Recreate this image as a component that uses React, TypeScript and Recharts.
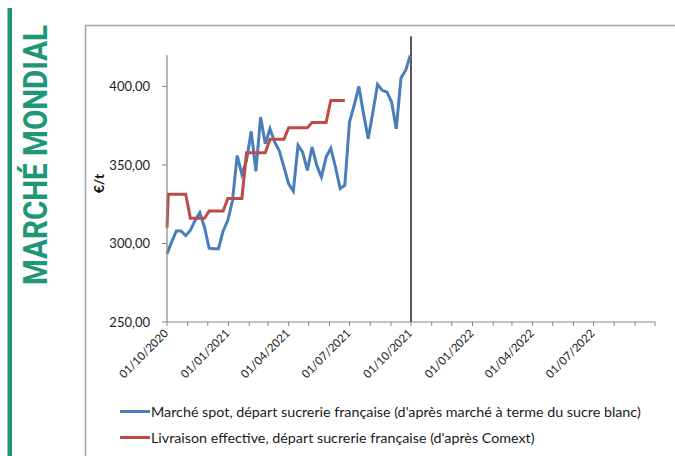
import * as React from "react";
import { Line, LineChart, ReferenceLine, XAxis, YAxis } from "recharts";

const DAY = 86400000;
const toTime = (s: string) => Date.parse(s + "T00:00:00Z");

// weekly spot quotes, first week starting 01/10/2020
const spotStart = "2020-10-01";
const spotValues = [
    293.5, 301, 308, 308, 305, 308.4, 314.7, 319.6, 310.5, 297, 296.7, 296.7,
    308, 314.7, 327.5, 356, 344, 353, 371.4, 346, 380.5, 363.5, 373, 364.6,
    359, 348.7, 338, 333.4, 362.5, 358, 346.5, 361.4, 349.7, 342.3, 355, 360.6,
    348.7, 335, 337, 377.3, 388, 400, 382.6, 366.7, 383.7, 401.3, 397.5, 396.4,
    390, 373, 405.3, 410.2, 419.8,
];

// monthly effective delivery price (Comext), step points
const deliveryDates = [
    "2020-10-01", "2020-10-03", "2020-10-29", "2020-11-05", "2020-11-26",
    "2020-12-03", "2020-12-24", "2020-12-31", "2021-01-21", "2021-01-28",
    "2021-02-25", "2021-03-04", "2021-03-25", "2021-04-01", "2021-04-29",
    "2021-05-06", "2021-05-27", "2021-06-03", "2021-06-24",
];
const deliveryValues = [
    310, 331.3, 331.3, 316, 316, 320.6, 320.6, 328.6, 328.6, 357.7, 357.7,
    366.3, 366.3, 373.7, 373.7, 377, 377, 391, 391,
];

const xStart = "2020-10-01";
const xEnd = "2022-10-01";
const markerDate = "2021-10-01";
const xTickLabels = [
    "01/10/2020", "01/01/2021", "01/04/2021", "01/07/2021",
    "01/10/2021", "01/01/2022", "01/04/2022", "01/07/2022",
];
const yTicks = [250, 300, 350, 400];

const spotName =
    "Marché spot, départ sucrerie française (d'après marché à terme du sucre blanc)";
const deliveryName =
    "Livraison effective, départ sucrerie française (d'après Comext)";

const BLUE = "#4a7ebb";
const RED = "#be4b48";
const GREEN = "#1f9678";
const AXIS = "#878787";
const FONT = "Lato, 'Open Sans', sans-serif";

const spotData = spotValues.map((v, i) => ({
    t: toTime(spotStart) + i * 7 * DAY,
    v,
}));
const deliveryData = deliveryDates.map((d, i) => ({
    t: toTime(d),
    v: deliveryValues[i],
}));

const legendItems = [
    { name: spotName, color: BLUE },
    { name: deliveryName, color: RED },
];

const monthTicks: number[] = [];
for (let m = 0; m <= 24; m++) {
    monthTicks.push(Date.UTC(2020, 9 + m, 1));
}

const labelFor = (value: number) => {
    const d = new Date(value);
    const s = `01/${String(d.getUTCMonth() + 1).padStart(2, "0")}/${d.getUTCFullYear()}`;
    return xTickLabels.includes(s) ? s : null;
};

const QuarterTick = (props: any) => {
    const { x, y, payload } = props;
    const label = labelFor(payload.value);
    if (!label) return <g />;
    return (
        <text
            x={0}
            y={0}
            textAnchor="end"
            transform={`translate(${x + 2},${y + 6}) rotate(-45)`}
            fontSize={11.5}
            fontFamily={FONT}
            fill="#222"
        >
            {label}
        </text>
    );
};

const App = () => {
    return (
        <div
            style={{
                position: "absolute",
                left: 0,
                top: 0,
                width: 675,
                height: 456,
                background: "#fff",
                overflow: "hidden",
            }}
        >
            <svg
                width={675}
                height={456}
                style={{ position: "absolute", left: 0, top: 0 }}
            >
                <rect x={7.5} y={8} width={4.5} height={448} fill={GREEN} />
                <text
                    transform="translate(46.5,285) rotate(-90)"
                    fontFamily="Roboto, sans-serif"
                    fontWeight="bold"
                    fontSize={34}
                    fill={GREEN}
                    textLength={260}
                    lengthAdjust="spacingAndGlyphs"
                >
                    MARCHÉ MONDIAL
                </text>
                <path d="M85.5,456 V25.5 H675" fill="none" stroke="#a3a3a3" strokeWidth={1.5} />
            </svg>
            <div style={{ position: "absolute", left: 0, top: 0 }}>
                <LineChart
                    width={675}
                    height={456}
                    margin={{ top: 55, right: 20, bottom: 74, left: 87 }}
                >
                    <XAxis
                        type="number"
                        dataKey="t"
                        domain={[toTime(xStart), toTime(xEnd)]}
                        ticks={monthTicks}
                        interval={0}
                        tick={<QuarterTick />}
                        tickSize={4}
                        height={60}
                        stroke={AXIS}
                        tickLine={{ stroke: AXIS }}
                        axisLine={{ stroke: AXIS, strokeWidth: 1.2 }}
                    />
                    <YAxis
                        type="number"
                        domain={[250, 420]}
                        ticks={yTicks}
                        width={80}
                        tickSize={5}
                        tickMargin={12}
                        tickFormatter={(v: number) => v.toFixed(2).replace(".", ",")}
                        tick={{ fontSize: 13, fontFamily: FONT, fill: "#222" }}
                        stroke={AXIS}
                        axisLine={{ stroke: AXIS, strokeWidth: 1.2 }}
                        label={{
                            content: (p: any) => {
                                const vb = p.viewBox;
                                const cx = vb.x + 11;
                                const cy = vb.y + vb.height / 2 - 5;
                                return (
                                    <text
                                        x={cx}
                                        y={cy}
                                        transform={`rotate(-90,${cx},${cy})`}
                                        textAnchor="middle"
                                        dominantBaseline="central"
                                        fontFamily={FONT}
                                        fontWeight="bold"
                                        fontSize={14}
                                        fill="#111"
                                    >
                                        €/t
                                    </text>
                                );
                            },
                        }}
                    />
                    <ReferenceLine
                        segment={[
                            { x: toTime(markerDate), y: 250 },
                            { x: toTime(markerDate), y: 432 },
                        ]}
                        stroke="#222"
                        strokeWidth={1.5}
                        ifOverflow="visible"
                    />
                    <Line
                        data={spotData}
                        dataKey="v"
                        name={spotName}
                        type="linear"
                        stroke={BLUE}
                        strokeWidth={3}
                        dot={false}
                        isAnimationActive={false}
                    />
                    <Line
                        data={deliveryData}
                        dataKey="v"
                        name={deliveryName}
                        type="linear"
                        stroke={RED}
                        strokeWidth={3}
                        dot={false}
                        isAnimationActive={false}
                    />
                </LineChart>
            </div>
            <div
                style={{
                    position: "absolute",
                    left: 120,
                    top: 398,
                    fontFamily: FONT,
                    fontSize: 14.3,
                    color: "#1a1a1a",
                }}
            >
                {legendItems.map((item) => (
                    <div
                        key={item.name}
                        style={{ display: "flex", alignItems: "center", height: 26 }}
                    >
                        <span
                            style={{
                                display: "inline-block",
                                width: 30,
                                height: 3,
                                background: item.color,
                                marginRight: 1,
                            }}
                        />
                        <span style={{ whiteSpace: "nowrap" }}>{item.name}</span>
                    </div>
                ))}
            </div>
        </div>
    );
};

export default App;
